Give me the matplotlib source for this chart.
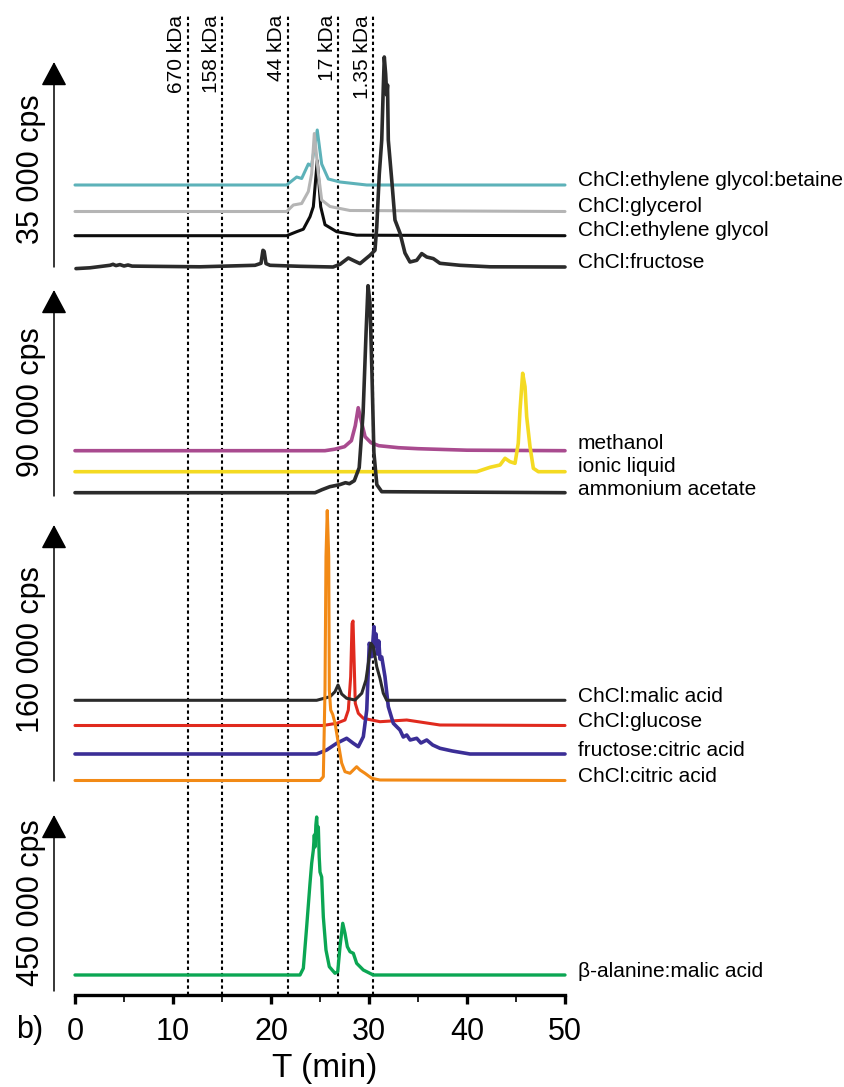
import matplotlib
matplotlib.use("Agg")
import matplotlib.pyplot as plt

plt.rcParams["font.family"] = ["Liberation Sans", "DejaVu Sans"]

# ------------------------------------------------------------------
# Data (time in min, signal in a.u. above
# each trace's own baseline; 1 a.u. ~ 1 px of the original figure)
# ------------------------------------------------------------------
marker_times = [11.5, 15.05, 21.7, 26.85, 30.45]
marker_labels = ["670 kDa", "158 kDa", "44 kDa", "17 kDa", "1.35 kDa"]

# panel 1 : 35 000 cps
betaine_t = [0, 21.6, 22.62, 23.13, 23.81, 24.13, 24.72, 25.17, 25.85, 27.04, 29.77, 50]
betaine_y = [0, 0, 8, 6.5, 21, 19, 55, 21, 6, 3, 0, 0]
glycerol_t = [0, 21.6, 22.28, 23.13, 23.81, 24.15, 24.42, 24.83, 25.17, 26.02, 28.06, 50]
glycerol_y = [0, 0, 6.5, 8, 20, 38, 78, 38, 11.5, 5, 1, 0]
eglycol_t = [0, 21.6, 22.62, 23.3, 23.98, 24.32, 24.72, 25.07, 25.51, 26.7, 28.74, 50]
eglycol_y = [0, 0, 4, 6.5, 19, 29, 75, 29, 11, 4, 0.5, 0]
fructose_t = [0.1, 1.53, 3.57, 3.88, 4.18, 4.59, 5.0, 5.41, 5.82, 7.65, 12.76, 18.37,
              18.98, 19.18, 19.3, 19.49, 19.9, 22.96, 26.33, 27.04, 27.89, 28.37, 29.08,
              30.1, 30.61, 30.79, 31.05, 31.3, 31.46, 31.56, 31.7, 31.81, 31.89, 31.97,
              32.32, 32.65, 33.16, 33.67, 34.18, 34.87, 35.38, 35.89, 36.56, 37.24,
              39.29, 42.35, 50]
fructose_y = [-1.6, -0.8, 1.7, 2.7, 1.4, 2.4, 1.0, 2.0, 0.9, 0.7, 0.2, 1.7,
              3.7, 16.7, 15.7, 3.4, 1.7, 0.7, 0, 2.7, 9, 6.7, 3.4,
              11.7, 16.7, 40, 93, 127, 180, 210, 193, 172, 182, 127,
              87, 47, 34, 14, 5, 6.7, 13.4, 10, 8.4, 3.7,
              1.7, 0.2, 0]

# panel 2 : 90 000 cps
methanol_t = [0, 25.5, 26.5, 27.5, 28.2, 28.6, 28.9, 29.2, 29.6, 30.2, 31.0, 33.0, 35.0, 40.0, 50]
methanol_y = [0, 0, 1.5, 4, 10, 25, 43, 30, 14, 8, 5, 3, 2, 0.5, 0]
ionic_t = [0, 41.0, 42.35, 43.37, 43.88, 44.39, 44.9, 45.23, 45.41, 45.68, 45.92,
           46.09, 46.43, 46.77, 47.28, 50]
ionic_y = [0, 0, 4.4, 6.7, 13.4, 10, 8.4, 28.4, 61.7, 98.4, 85, 55, 25, 3.4, 0, 0]
acetate_t = [0, 24.5, 25.2, 26.0, 27.0, 27.6, 28.0, 28.5, 29.0, 29.4, 29.7, 29.9,
             30.1, 30.3, 30.5, 30.8, 31.3, 50]
acetate_y = [0, 0, 3, 6, 8, 10, 9, 12, 25, 80, 160, 207, 190, 120, 40, 8, 1, 0]

# panel 3 : 160 000 cps
malic_t = [0, 24.66, 26.02, 26.53, 26.84, 27.21, 27.72, 28.57, 29.26, 29.69, 30.03,
           30.2, 30.44, 30.79, 31.12, 31.46, 31.81, 50]
malic_y = [0, 0, 3.6, 8.6, 15.3, 6.3, 2, 0.3, 7, 20.3, 43.6, 57, 53.6, 33.6, 22, 7, 0, 0]
glucose_t = [0, 25.3, 26.7, 27.55, 27.89, 28.13, 28.27, 28.37, 28.47, 28.6, 28.91,
             29.42, 31.12, 33.85, 37.24, 50]
glucose_y = [0, 0, 2.2, 5.5, 15.5, 48.8, 102, 104.5, 68.8, 22.2, 12.2, 7.2, 3.8, 5.5, 0.5, 0]
fcitric_t = [0, 24.66, 25.68, 26.7, 27.72, 28.4, 28.91, 29.42, 29.77, 30.03, 30.28,
             30.51, 30.62, 30.72, 30.85, 31.0, 31.12, 31.3, 31.63, 31.97, 32.48,
             33.16, 33.5, 33.85, 34.2, 34.87, 35.3, 35.89, 36.5, 37.24, 38.5, 40.3, 50]
fcitric_y = [0, 0, 4, 10.7, 15.7, 10.7, 7.3, 17.3, 44, 110.7, 97.3,
             127.3, 108, 120, 100, 113, 95, 97, 77.3, 47.3, 30.7,
             24, 17, 19, 14, 15.7, 11, 14, 9, 5.7, 3, 0, 0]
ccitric_t = [0, 25.0, 25.34, 25.51, 25.61, 25.74, 25.89, 25.95, 26.09, 26.3, 26.53,
             26.87, 27.21, 27.55, 28.06, 28.74, 29.08, 29.59, 30.28, 31.12, 50]
ccitric_y = [0, 0, 3.8, 90.5, 224, 270, 224, 90.5, 70.5, 66, 57.5,
             37.2, 17.5, 8.8, 7.2, 13.8, 10.5, 7.2, 2.2, 0.5, 0]

# panel 4 : 450 000 cps
alanine_t = [0, 22.96, 23.3, 23.64, 23.98, 24.15, 24.32, 24.42, 24.49, 24.58, 24.66,
             24.75, 24.83, 24.92, 25.0, 25.17, 25.34, 25.61, 25.95, 26.53, 26.81,
             27.04, 27.32, 27.55, 27.79, 28.06, 28.4, 28.74, 29.42, 30.44, 50]
alanine_y = [0, 0, 6.7, 48.3, 91.7, 111.7, 125, 140, 128, 150, 158,
             138, 148, 118, 103, 98, 58, 25, 8.3, 1.7, 3.3,
             28.3, 51.7, 41.7, 28.3, 23.3, 21.7, 11.7, 5, 0, 0]

# ------------------------------------------------------------------
W, H = 844, 1087
X0, X1 = 75, 565          # pixel position of t = 0 and t = 50


def fx(px):
    return px / W


def fy(py):
    return 1 - py / H


fig = plt.figure(figsize=(W / 100, H / 100), dpi=100)

# background axes : time axis + molecular weight markers
bg = fig.add_axes([fx(X0), fy(995), fx(X1) - fx(X0), fy(15) - fy(995)])
bg.set_xlim(0, 50)
bg.set_ylim(0, 1)
bg.patch.set_alpha(0)
for s in ["left", "right", "top"]:
    bg.spines[s].set_visible(False)
bg.spines["bottom"].set_linewidth(2.4)
bg.set_yticks([])
bg.set_xticks(range(0, 51, 10))
bg.set_xticks(range(5, 50, 10), minor=True)
bg.tick_params(axis="x", which="major", direction="out", length=6.5, width=2.4,
               labelsize=22, pad=9)
bg.tick_params(axis="x", which="minor", direction="out", length=5, width=1.2)
for t, lab in zip(marker_times, marker_labels):
    bg.axvline(t, color="black", lw=1.5, ls=(0, (1.6, 1.4)), zorder=0)
    bg.text(t - 0.15, 1.0, lab, rotation=90, ha="right", va="top", fontsize=15)

fig.text(fx(325), fy(1068), "T (min)", ha="center", va="center", fontsize=24)
fig.text(fx(30), fy(1030), "b)", ha="center", va="center", fontsize=22)

ARROW_X = (54 - X0) / 9.8


def add_panel(top_px, bottom_px, y0_px, arrow_len, ylabel, ylabel_y):
    ax = fig.add_axes([fx(X0), fy(bottom_px), fx(X1) - fx(X0), fy(top_px) - fy(bottom_px)])
    ax.set_xlim(0, 50)
    ax.set_ylim(-(bottom_px - y0_px), y0_px - top_px)
    ax.axis("off")
    ax.annotate("", xy=(ARROW_X, arrow_len), xytext=(ARROW_X, 0),
                arrowprops=dict(arrowstyle="-|>,head_length=0.75,head_width=0.4",
                                lw=1.1, color="black", shrinkA=0, shrinkB=0,
                                mutation_scale=20),
                annotation_clip=False)
    fig.text(fx(31), fy(ylabel_y), ylabel, rotation=90, ha="center", va="center",
             fontsize=22)
    return ax


def trace(ax, t, y, offset, color, label, label_base_px, lw=2.2, z=2):
    ax.plot(t, [v + offset for v in y], color=color, lw=lw, zorder=z,
            solid_joinstyle="round", solid_capstyle="round", clip_on=False)
    fig.text(fx(578), fy(label_base_px), label, ha="left", va="baseline", fontsize=15)


# panel 1
ax1 = add_panel(40, 278, 267, 205, "35 000 cps", 169)
trace(ax1, eglycol_t, eglycol_y, 31.3, "#0d0d0d", "ChCl:ethylene glycol", 236, z=2)
trace(ax1, betaine_t, betaine_y, 82, "#5db2b9", "ChCl:ethylene glycol:betaine", 186.5, z=3)
trace(ax1, glycerol_t, glycerol_y, 55.5, "#b5b5b5", "ChCl:glycerol", 211.5, z=4)
trace(ax1, fructose_t, fructose_y, 0, "#2b2b2b", "ChCl:fructose", 268, lw=2.6, z=5)

# panel 2
ax2 = add_panel(280, 505, 496, 206, "90 000 cps", 402)
trace(ax2, methanol_t, methanol_y, 45.3, "#a94b8f", "methanol", 449, lw=2.6, z=2)
trace(ax2, ionic_t, ionic_y, 24.3, "#f4da22", "ionic liquid", 472, lw=2.6, z=3)
trace(ax2, acetate_t, acetate_y, 3.3, "#2b2b2b", "ammonium acetate", 495, lw=2.6, z=4)

# panel 3
ax3 = add_panel(505, 795, 781, 256, "160 000 cps", 650)
trace(ax3, glucose_t, glucose_y, 55.5, "#e02a1e", "ChCl:glucose", 727.3, z=2)
trace(ax3, fcitric_t, fcitric_y, 27, "#3b2e96", "fructose:citric acid", 756, lw=2.6, z=3)
trace(ax3, malic_t, malic_y, 80.7, "#2b2b2b", "ChCl:malic acid", 701.7, z=4)
trace(ax3, ccitric_t, ccitric_y, 0.5, "#f28a16", "ChCl:citric acid", 781.7, z=5)

# panel 4
ax4 = add_panel(800, 995, 991, 176, "450 000 cps", 903)
trace(ax4, alanine_t, alanine_y, 16, "#0ba653", "\u03b2-alanine:malic acid", 977, lw=2.4)

fig.savefig("out.png", dpi=100)
